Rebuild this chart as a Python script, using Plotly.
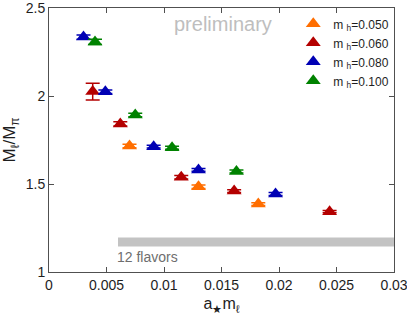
import plotly.graph_objects as go

# data: (a m_l, M_l/M_pi, error)
mh_labels = ["0.050", "0.060", "0.080", "0.100"]
colors = ["rgb(255,110,0)", "rgb(180,0,0)", "rgb(0,0,180)", "rgb(0,130,0)"]

x_050 = [0.0070, 0.0130, 0.0182]
y_050 = [1.716, 1.485, 1.386]
e_050 = [0.010, 0.010, 0.008]

x_060 = [0.0038, 0.0062, 0.0115, 0.0161, 0.0244]
y_060 = [2.025, 1.841, 1.538, 1.460, 1.343]
e_060 = [0.048, 0.012, 0.010, 0.008, 0.006]

x_080 = [0.0030, 0.0049, 0.0091, 0.0130, 0.0197]
y_080 = [2.335, 2.024, 1.712, 1.580, 1.443]
e_080 = [0.012, 0.010, 0.008, 0.008, 0.008]

x_100 = [0.0040, 0.0075, 0.0107, 0.0163]
y_100 = [2.307, 1.892, 1.706, 1.571]
e_100 = [0.015, 0.010, 0.008, 0.008]

band_x = [0.006, 0.03]
band_y = 1.17
band_label = "12 flavors"

x_ticks = [0, 0.005, 0.01, 0.015, 0.02, 0.025, 0.03]
x_ticktext = ["0", "0.005", "0.01", "0.015", "0.02", "0.025", "0.03"]
y_ticks = [1, 1.5, 2, 2.5]
y_ticktext = ["1", "1.5", "2", "2.5"]

series = [(x_050, y_050, e_050), (x_060, y_060, e_060), (x_080, y_080, e_080), (x_100, y_100, e_100)]

fig = go.Figure()
fig.add_trace(go.Scatter(x=band_x, y=[band_y, band_y], mode="lines",
                         line=dict(color="rgb(195,195,195)", width=9),
                         showlegend=False, hoverinfo="skip"))
for (xs, ys, es), lab, c in zip(series, mh_labels, colors):
    fig.add_trace(go.Scatter(
        x=xs, y=ys, mode="markers",
        marker=dict(symbol="triangle-up", size=13, color=c),
        error_y=dict(type="data", array=es, color=c, thickness=1.5, width=7),
        name="m <sub>h</sub>=" + lab))

fig.add_annotation(x=band_x[0], y=band_y, text=band_label, showarrow=False,
                   xanchor="left", yanchor="top", yshift=-5, xshift=-3,
                   font=dict(size=14, color="rgb(110,110,110)"))
fig.add_annotation(x=0.01515, y=2.41, text="preliminary", showarrow=False,
                   xanchor="center", yanchor="middle",
                   font=dict(size=20, color="rgb(190,190,190)"))

axis_common = dict(showline=True, linecolor="rgb(80,80,80)", linewidth=1, mirror="ticks",
                   ticks="inside", ticklen=5, tickcolor="rgb(80,80,80)", showgrid=False,
                   zeroline=False, automargin=False, ticklabeloverflow="allow",
                   tickfont=dict(size=14, color="rgb(30,30,30)"))

fig.update_layout(
    width=407, height=317,
    margin=dict(l=49, r=13, t=8, b=45),
    paper_bgcolor="white", plot_bgcolor="white",
    font=dict(family="Liberation Sans, Arial, sans-serif", color="rgb(30,30,30)"),
    xaxis=dict(range=[0, 0.03], tickvals=x_ticks, ticktext=x_ticktext,
               title=dict(text="a<sub>★</sub>m<sub>ℓ</sub>", font=dict(size=16), standoff=6),
               **axis_common),
    yaxis=dict(range=[1, 2.5], tickvals=y_ticks, ticktext=y_ticktext,
               title=dict(text="M<sub>ℓ</sub>/M<sub>π</sub>", font=dict(size=17), standoff=6),
               **axis_common),
    legend=dict(x=0.708, y=0.995, xanchor="left", yanchor="top", bgcolor="rgba(0,0,0,0)",
                font=dict(size=12), tracegroupgap=0, itemwidth=30),
)

fig.write_html("out.html", config={"displayModeBar": False},
               post_script="document.body.style.margin='0px';")
